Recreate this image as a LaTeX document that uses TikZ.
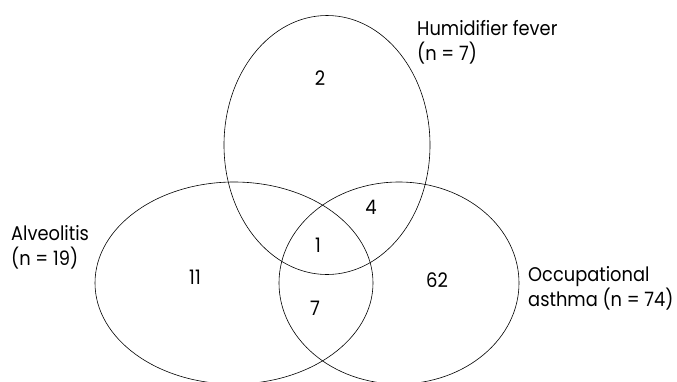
\documentclass[tikz,border=0pt]{standalone}
\usepackage{fontspec}
\setmainfont{Poppins}[FakeStretch=0.9]
\usetikzlibrary{shapes.geometric}
\begin{document}
\begin{tikzpicture}[x=1pt,y=-1pt,
  setshape/.style={ellipse, draw, line width=0.6pt, inner sep=0pt, outer sep=0pt},
  lbl/.style={anchor=west, align=left, font=\fontsize{19.8}{24.5}\selectfont, inner sep=0pt},
  num/.style={font=\fontsize{20}{22}\selectfont, inner sep=0pt}]
\useasboundingbox (0,0) rectangle (677,381);
\clip (0,0) rectangle (677,381);
\fill[white] (0,0) rectangle (677,381);
\node[setshape, minimum width=206pt, minimum height=259pt] (hf) at (327,145) {};
\node[setshape, minimum width=278pt, minimum height=202pt] (al) at (234,283) {};
\node[setshape, minimum width=240pt, minimum height=202pt] (oa) at (399,283) {};
\node[lbl] (lhf) at (417,42.5) {Humidifier fever\\(n = 7)};
\node[lbl] (lal) at (11,247.5) {Alveolitis\\(n = 19)};
\node[lbl] (loa) at (528,288.5) {Occupational\\asthma (n = 74)};
\node[num] (n2) at (320,78) {2};
\node[num] (n4) at (371,207) {4};
\node[num] (n1) at (318,245) {1};
\node[num] (n11) at (195,277) {11};
\node[num] (n62) at (437,280) {62};
\node[num] (n7) at (315,308) {7};
\end{tikzpicture}
\end{document}
